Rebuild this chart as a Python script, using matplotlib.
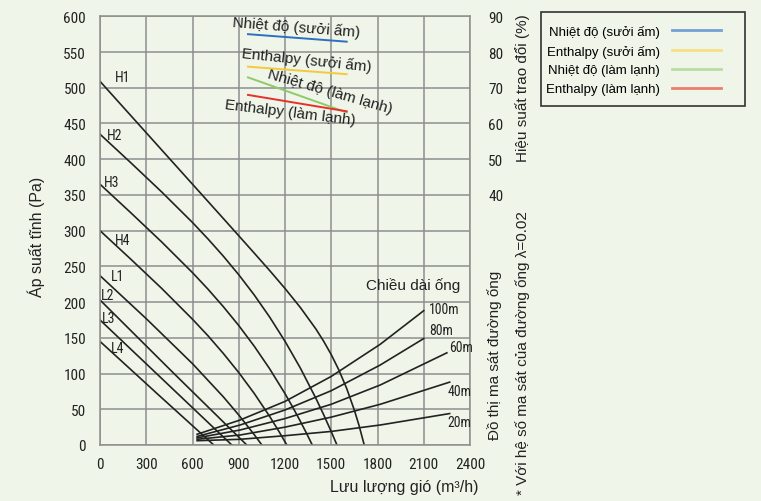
import matplotlib
matplotlib.use("Agg")
import matplotlib.pyplot as plt
from matplotlib.patches import Rectangle

# ---------------- data ----------------
fan_names = ["H1", "H2", "H3", "H4", "L1", "L2", "L3", "L4"]
h1_x = [0, 200, 400, 600, 800, 1000, 1100, 1200, 1300, 1400, 1450, 1500,
        1550, 1600, 1650, 1680, 1714]
h1_y = [509, 461, 413, 365, 317, 268.7, 244.3, 219.1, 192.3, 162.5, 145.5,
        126.5, 104.7, 79.2, 48.7, 27.5, 0]
h2_x = [0, 200, 400, 600, 700, 800, 900, 1000, 1100, 1200, 1300, 1400, 1450,
        1500, 1537]
h2_y = [435, 395, 354.2, 311.4, 288.5, 264.3, 238.3, 210.1, 179.2, 145.2,
        107.5, 65.5, 42.8, 18.7, 0]
h3_x = [0, 200, 400, 600, 700, 800, 900, 1000, 1100, 1200, 1250, 1300, 1340,
        1377]
h3_y = [365, 325, 284.2, 241.2, 218.2, 193.6, 167.2, 138.4, 106.8, 71.9, 53,
        33, 16.2, 0]
h4_x = [0, 200, 400, 600, 700, 800, 900, 1000, 1100, 1160, 1212]
h4_y = [300, 260, 219.2, 176, 153, 128.1, 101.4, 72.3, 40.2, 19.2, 0]
l1_x = [0, 300, 600, 800, 900, 1000, 1050]
l1_y = [237, 176.8, 113.8, 67.4, 42, 14.6, 0]
l2_x = [0, 480, 952]
l2_y = [203, 100, 0]
l3_x = [0, 430, 855]
l3_y = [175, 87, 0]
l4_x = [0, 370, 738]
l4_y = [145, 72, 0]

duct_names = ["100m", "80m", "60m", "40m", "20m"]
d100_x = [630, 909, 1200, 1500, 1818, 2100]
d100_y = [15, 35, 61, 96, 141, 188]
d80_x = [630, 909, 1200, 1500, 1818, 2100]
d80_y = [12, 28, 49, 76, 112, 149]
d60_x = [630, 909, 1200, 1500, 1818, 2250]
d60_y = [10, 21, 37, 57, 84, 129]
d40_x = [630, 909, 1200, 1500, 1818, 2268]
d40_y = [8, 14, 25, 39, 57, 88]
d20_x = [630, 909, 1200, 1500, 1818, 2268]
d20_y = [6, 8, 13, 19, 28, 44]

eff_names = ["Nhiệt độ (sưởi ấm)", "Enthalpy (sưởi ấm)",
             "Nhiệt độ (làm lạnh)", "Enthalpy (làm lạnh)"]
eff_x = [960, 1600]
eff_heat_temp = [85.0, 82.9]
eff_heat_enth = [75.9, 73.8]
eff_cool_temp = [72.9, 63.1]
eff_cool_enth = [68.0, 63.4]

x_ticks = [0, 300, 600, 900, 1200, 1500, 1800, 2100, 2400]
y_ticks = [0, 50, 100, 150, 200, 250, 300, 350, 400, 450, 500, 550, 600]
eff_ticks = [40, 50, 60, 70, 80, 90]

# ---------------- style ----------------
BG = "#eff5e8"
GRID = "#8e8e8e"
INK = "#222222"
NARROW = ["Roboto Condensed", "DejaVu Sans"]
SANS = ["Liberation Sans", "DejaVu Sans"]

W, H = 761, 502
fig = plt.figure(figsize=(W / 100, H / 100), dpi=100, facecolor=BG)
ax = fig.add_axes([100 / W, 1 - 446 / H, 370 / W, (446 - 17.3) / H])
ax.set_facecolor(BG)
ax.set_xlim(0, 2400)
ax.set_ylim(0, 600)
ax.set_xticks(x_ticks)
ax.set_yticks(y_ticks)
ax.grid(True, color=GRID, lw=1.1)
ax.set_axisbelow(True)
for s in ax.spines.values():
    s.set_color(GRID)
    s.set_linewidth(1.1)
ax.tick_params(length=0, labelsize=11, colors=INK)
ax.tick_params(axis="y", pad=10)
ax.tick_params(axis="x", pad=9)
for lab in ax.get_xticklabels() + ax.get_yticklabels():
    lab.set_family(NARROW)
    lab.set_stretch("condensed")

# fan curves
fan_x = [h1_x, h2_x, h3_x, h4_x, l1_x, l2_x, l3_x, l4_x]
fan_y = [h1_y, h2_y, h3_y, h4_y, l1_y, l2_y, l3_y, l4_y]
for xs, ys in zip(fan_x, fan_y):
    ax.plot(xs, ys, color=INK, lw=1.2, solid_joinstyle="round")
fan_label_pos = [(146, 515), (94, 434), (78, 368), (149, 287),
                 (117, 236), (49, 210), (56, 178), (117, 136)]
for name, (px, py) in zip(fan_names, fan_label_pos):
    ax.text(px, py, name, ha="center", va="center", fontsize=10,
            family=NARROW, stretch="condensed", color=INK)

# duct friction curves
duct_x = [d100_x, d80_x, d60_x, d40_x, d20_x]
duct_y = [d100_y, d80_y, d60_y, d40_y, d20_y]
for xs, ys in zip(duct_x, duct_y):
    ax.plot(xs, ys, color=INK, lw=1.2, solid_joinstyle="round")
duct_label_pos = [(2136, 190), (2136, 161), (2264, 137), (2255, 75), (2255, 32)]
for name, (px, py) in zip(duct_names, duct_label_pos):
    ax.text(px, py, name, ha="left", va="center", fontsize=10,
            family=NARROW, stretch="condensed", color=INK)
ax.text(2029, 225, "Chiều dài ống", ha="center", va="center",
        fontsize=11, family=SANS, color=INK)

# efficiency axis
ax2 = ax.twinx()
ax2.set_ylim(-30, 90)
ax2.set_yticks(eff_ticks)
ax2.tick_params(length=0, labelsize=11, colors=INK, pad=13)
for lab in ax2.get_yticklabels():
    lab.set_family(NARROW)
    lab.set_stretch("condensed")
for s in ax2.spines.values():
    s.set_visible(False)

eff_colors = ["#2f6fc0", "#f5c93b", "#8fca6a", "#e8302a"]
eff_leg_colors = ["#74a0d4", "#f6df86", "#b9dca3", "#ee7d6e"]
eff_vals = [eff_heat_temp, eff_heat_enth, eff_cool_temp, eff_cool_enth]
for vals, c in zip(eff_vals, eff_colors):
    ax2.plot(eff_x, vals, color=c, lw=1.4)

eff_label_pos = [(1273, 585, -4.5), (1338, 540, -6),
                 (1494, 495, -16), (1234, 466, -7)]
for name, (px, py, rot) in zip(eff_names, eff_label_pos):
    ax.text(px, py, name, ha="center", va="center", rotation=rot,
            rotation_mode="anchor", fontsize=11, family=SANS, color=INK)

# legend
handles = [plt.Line2D([], [], color=c, lw=2) for c in eff_leg_colors]
fig.legend(handles, eff_names, loc="upper left",
           bbox_to_anchor=(546 / W, 1 - 26 / H), frameon=False,
           markerfirst=False, handlelength=3.7, handletextpad=0.9,
           labelspacing=0.5, borderpad=0, borderaxespad=0,
           prop={"family": SANS, "size": 9.5})
fig.patches.append(Rectangle((541 / W, 1 - 107.3 / H), 204 / W, 94.6 / H,
                             transform=fig.transFigure, fill=False,
                             edgecolor="#333333", lw=1.2))

# axis titles
fig.text(36.7 / W, 1 - 237 / H, "Áp suất tĩnh (Pa)", rotation=90,
         ha="center", va="center", fontsize=11.5, family=SANS, color=INK)
fig.text(404 / W, 1 - 488 / H, "Lưu lượng gió (m³/h)", ha="center",
         va="center", fontsize=11.5, family=SANS, color=INK)
fig.text(523 / W, 1 - 88 / H, "Hiệu suất trao đổi (%)", rotation=90,
         ha="center", va="center", fontsize=11, family=SANS, color=INK)
fig.text(495 / W, 1 - 355 / H, "Đồ thị ma sát đường ống", rotation=90,
         ha="center", va="center", fontsize=11, family=SANS, color=INK)
fig.text(523 / W, 1 - 353 / H, "* Với hệ số ma sát của đường ống λ=0.02",
         rotation=90, ha="center", va="center", fontsize=11, family=SANS,
         color=INK)

fig.savefig("out.png", dpi=100, facecolor=BG)
